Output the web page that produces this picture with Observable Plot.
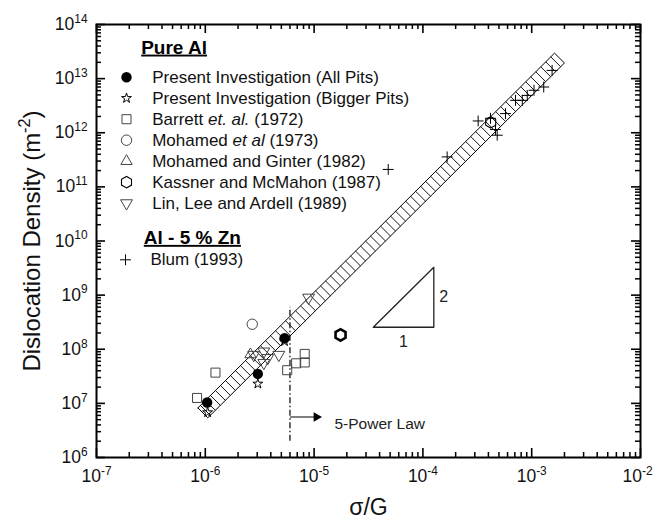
<!DOCTYPE html>
<html><head><meta charset="utf-8">
<script src="https://cdn.jsdelivr.net/npm/d3@7"></script>
<script src="https://cdn.jsdelivr.net/npm/@observablehq/plot@0.6"></script>
<style>
body{margin:0;background:#fff;}
#chart svg{font-family:"Liberation Sans",Arial,Helvetica,sans-serif;background:#fff;}
</style></head><body><div id="chart"></div>
<script>
// ---------------- data (σ/G, dislocation density m^-2) ----------------
const allPitsX    = [1.04e-6, 3.04e-6, 5.35e-6];
const allPitsY    = [1.04e7, 3.5e7, 1.6e8];
const biggerPitsX = [1.05e-6, 3.04e-6, 5.35e-6];
const biggerPitsY = [6.8e6, 2.3e7, 1.4e8];
const barrettX    = [8.4e-7, 1.24e-6, 5.66e-6, 6.84e-6, 8.2e-6, 8.2e-6];
const barrettY    = [1.26e7, 3.7e7, 4.1e7, 5.5e7, 5.7e7, 8.2e7];
const mohamedX    = [2.7e-6];
const mohamedY    = [2.9e8];
const ginterX     = [2.6e-6];
const ginterY     = [8.0e7];
const kassnerX    = [1.75e-5, 4.2e-4];
const kassnerY    = [1.84e8, 1.56e12];
const linX        = [2.79e-6, 3.45e-6, 3.75e-6, 4.74e-6, 3.45e-6, 8.9e-6];
const linY        = [7.9e7, 9.1e7, 6.9e7, 7.9e7, 5.6e7, 9.0e8];
const blumX       = [4.8e-5, 1.67e-4, 3.22e-4, 4.18e-4, 4.65e-4, 4.82e-4, 5.74e-4, 7.1e-4, 8.2e-4, 9.1e-4, 1.05e-3, 1.29e-3, 1.54e-3];
const blumY       = [2.1e11, 3.58e11, 1.65e12, 1.85e12, 1.15e12, 9.0e11, 2.26e12, 3.97e12, 3.97e12, 4.9e12, 6.1e12, 7.0e12, 1.42e13];

// fitted band  ρ = bandCoef · (σ/G)^2
const bandCoef  = 7.4e18;
const bandRange = [9.5e-7, 1.8e-3];
const bandHalf  = [0.0455, 0.0912];   // half width (decades in x, y) across the band

// 5-power-law boundary and slope triangle
const powerLawX   = [6e-6];
const powerLawY   = [2e6, 6e8];
const arrowX      = [6e-6, 1.12e-5];
const arrowY      = [5.6e6];
const powerLawPos = [1.54e-5, 4.2e6];
const slopeTriX   = [3.5e-5, 1.26e-4];
const slopeTriY   = [2.55e8, 3.27e9];

// tick labels (exponents)
const xTickExp = [-7, -6, -5, -4, -3, -2];
const yTickExp = [6, 7, 8, 9, 10, 11, 12, 13, 14];
const minorMult = [2, 3, 4, 5, 6, 7, 8, 9];

// texts
const xTitle = "σ/G";
const yTitle = "Dislocation Density (m^-2)";
const headPure = "Pure Al";
const headZn = "Al - 5 % Zn";
const pureLabels = ["Present Investigation (All Pits)", "Present Investigation (Bigger Pits)", "Barrett *et. al.* (1972)", "Mohamed *et al* (1973)", "Mohamed and Ginter (1982)", "Kassner and McMahon (1987)", "Lin, Lee and Ardell (1989)"];
const znLabels = ["Blum (1993)"];
const powerLawLabel = "5-Power Law";
const slopeLabels = ["1", "2"];

// ---------------- layout / styles ----------------
const W = 654, H = 522;
const M = {left: 96, right: 14, top: 24, bottom: 65};
const plotW = W - M.left - M.right, plotH = H - M.top - M.bottom;
const pts = (xs, ys) => xs.map((x, i) => ({x, y: ys[i]}));

const sty = {
  all:     {symbol: "circle", fill: "#000", stroke: "none", r: 5.2},
  bigger:  {symbol: "star", fill: "none", stroke: "#000", strokeWidth: 1, r: 3.1},
  barrett: {symbol: "square", fill: "none", stroke: "#444", strokeWidth: 1, r: 5.1},
  mohamed: {symbol: "circle", fill: "none", stroke: "#444", strokeWidth: 1, r: 5.2},
  ginter:  {symbol: "triangle", fill: "none", stroke: "#444", strokeWidth: 1, r: 4.2},
  kassner: {symbol: "hexagon", fill: "none", stroke: "#000", strokeWidth: 1.1, r: 5},
  lin:     {symbol: "triangle", fill: "none", stroke: "#444", strokeWidth: 1, r: 4.4, rotate: 180},
  blum:    {symbol: "plus", fill: "none", stroke: "#000", strokeWidth: 1, r: 3.6}
};
const pureKeys = ["all", "bigger", "barrett", "mohamed", "ginter", "kassner", "lin"];

// band geometry
const lk = Math.log10(bandCoef);
const [la, lb] = bandRange.map(Math.log10);
const ul = lx => ({x: 10 ** (lx - bandHalf[0]), y: 10 ** (lk + 2 * lx + bandHalf[1])});
const lr = lx => ({x: 10 ** (lx + bandHalf[0]), y: 10 ** (lk + 2 * lx - bandHalf[1])});
const outline = [ul(la), ul(lb), lr(lb), lr(la), ul(la)];
const hatchStep = 0.046;
const hatch = d3.range(la + hatchStep / 2, lb, hatchStep).map(lx => ({a: ul(lx), b: lr(lx)}));

const xMinor = xTickExp.slice(0, -1).flatMap(e => minorMult.map(m => m * 10 ** e));
const yMinor = yTickExp.slice(0, -1).flatMap(e => minorMult.map(m => m * 10 ** e));
const xMajor = xTickExp.map(e => 10 ** e);
const yMajor = yTickExp.map(e => 10 ** e);

const LF = 17, HF = 19;
const legend = [];
pureKeys.forEach((k, i) => {
  const dy = 52.7 + 21 * i;
  legend.push(Plot.dot([0], {frameAnchor: "top-left", dx: 30, dy, ...sty[k]}));
  legend.push(Plot.text([pureLabels[i]], {frameAnchor: "top-left", dx: 55.7, dy, text: d => d, textAnchor: "start", lineAnchor: "middle", fontSize: LF, fill: "#111"}));
});
legend.push(Plot.text([headPure], {frameAnchor: "top-left", dx: 44.7, dy: 23, text: d => d, textAnchor: "start", lineAnchor: "middle", fontSize: HF, fontWeight: "bold"}));
legend.push(Plot.text([headZn], {frameAnchor: "top-left", dx: 47.3, dy: 213.3, text: d => d, textAnchor: "start", lineAnchor: "middle", fontSize: HF, fontWeight: "bold"}));
legend.push(Plot.dot([0], {frameAnchor: "top-left", dx: 29, dy: 235.3, ...sty.blum}));
legend.push(Plot.text(znLabels, {frameAnchor: "top-left", dx: 54, dy: 235.3, text: d => d, textAnchor: "start", lineAnchor: "middle", fontSize: LF, fill: "#111"}));

const tri = [
  {x: slopeTriX[0], y: slopeTriY[0]}, {x: slopeTriX[1], y: slopeTriY[0]},
  {x: slopeTriX[1], y: slopeTriY[1]}, {x: slopeTriX[0], y: slopeTriY[0]}
];

const chart = Plot.plot({
  width: W, height: H,
  marginLeft: M.left, marginRight: M.right, marginTop: M.top, marginBottom: M.bottom,
  style: {fontFamily: "'Liberation Sans', Arial, sans-serif", background: "#fff"},
  x: {type: "log", domain: [1e-7, 1e-2], axis: null},
  y: {type: "log", domain: [1e6, 1e14], axis: null},
  marks: [
    // band
    Plot.link(hatch, {x1: d => d.a.x, y1: d => d.a.y, x2: d => d.b.x, y2: d => d.b.y, stroke: "#000", strokeWidth: 0.9}),
    Plot.line(outline, {x: "x", y: "y", stroke: "#000", strokeWidth: 1}),
    // 5-power law boundary
    Plot.ruleX(powerLawX, {x: d => d, y1: powerLawY[0], y2: powerLawY[1], stroke: "#000", strokeWidth: 1.2, strokeDasharray: "6,2.5,1.5,2.5"}),
    Plot.link([0], {x1: arrowX[0], x2: arrowX[1], y1: arrowY[0], y2: arrowY[0], stroke: "#000", strokeWidth: 1}),
    Plot.dot([0], {x: arrowX[1], y: arrowY[0], symbol: "triangle", rotate: 90, r: 3.6, fill: "#000", dx: -3}),
    Plot.text([powerLawLabel], {x: powerLawPos[0], y: powerLawPos[1], text: d => d, textAnchor: "start", fontSize: 15.5, fill: "#222"}),
    // slope triangle
    Plot.line(tri, {x: "x", y: "y", stroke: "#222", strokeWidth: 1.3}),
    Plot.text([slopeLabels[0]], {x: Math.sqrt(slopeTriX[0] * slopeTriX[1]), y: slopeTriY[0], dy: 15, text: d => d, fontSize: 16, fill: "#222"}),
    Plot.text([slopeLabels[1]], {x: slopeTriX[1], y: Math.sqrt(slopeTriY[0] * slopeTriY[1]), dx: 10, text: d => d, fontSize: 16, fill: "#222"}),
    // data
    Plot.dot(pts(barrettX, barrettY), {x: "x", y: "y", ...sty.barrett}),
    Plot.dot(pts(mohamedX, mohamedY), {x: "x", y: "y", ...sty.mohamed}),
    Plot.dot(pts(ginterX, ginterY), {x: "x", y: "y", ...sty.ginter}),
    Plot.dot(pts(linX, linY), {x: "x", y: "y", ...sty.lin}),
    Plot.dot(pts(kassnerX.slice(0, 1), kassnerY.slice(0, 1)), {x: "x", y: "y", ...sty.kassner, strokeWidth: 2.6}),
    Plot.dot(pts(kassnerX.slice(1), kassnerY.slice(1)), {x: "x", y: "y", ...sty.kassner}),
    Plot.dot(pts(blumX, blumY), {x: "x", y: "y", ...sty.blum}),
    Plot.dot(pts(biggerPitsX, biggerPitsY), {x: "x", y: "y", ...sty.bigger}),
    Plot.dot(pts(allPitsX, allPitsY), {x: "x", y: "y", ...sty.all}),
    // ticks (inward, mirrored)
    Plot.ruleX(xMajor, {x: d => d, insetTop: plotH - 9, stroke: "#000", strokeWidth: 1.6}),
    Plot.ruleX(xMajor, {x: d => d, insetBottom: plotH - 9, stroke: "#000", strokeWidth: 1.6}),
    Plot.ruleX(xMinor, {x: d => d, insetTop: plotH - 5, stroke: "#000", strokeWidth: 1.5}),
    Plot.ruleX(xMinor, {x: d => d, insetBottom: plotH - 5, stroke: "#000", strokeWidth: 1.5}),
    Plot.ruleY(yMajor, {y: d => d, insetRight: plotW - 9, stroke: "#000", strokeWidth: 1.6}),
    Plot.ruleY(yMajor, {y: d => d, insetLeft: plotW - 9, stroke: "#000", strokeWidth: 1.6}),
    Plot.ruleY(yMinor, {y: d => d, insetRight: plotW - 5, stroke: "#000", strokeWidth: 1.5}),
    Plot.ruleY(yMinor, {y: d => d, insetLeft: plotW - 5, stroke: "#000", strokeWidth: 1.5}),
    Plot.frame({stroke: "#000", strokeWidth: 2}),
    // tick labels
    Plot.text(xTickExp.slice(0, -1), {x: e => 10 ** e, text: e => `10^${e}`, frameAnchor: "bottom", lineAnchor: "middle", dy: 19, fontSize: 17.5, fill: "#111"}),
    Plot.text(xTickExp.slice(-1), {x: e => 10 ** e, text: e => `10^${e}`, frameAnchor: "bottom", lineAnchor: "middle", dy: 19, dx: -3, fontSize: 17.5, fill: "#111"}),
    Plot.text(yTickExp, {y: e => 10 ** e, text: e => `10^${e}`, frameAnchor: "left", lineAnchor: "middle", dx: -9, textAnchor: "end", fontSize: 17.5, fill: "#111"}),
    // axis titles
    Plot.text([xTitle], {frameAnchor: "bottom", lineAnchor: "middle", dy: 50, text: d => d, fontSize: 23, fill: "#111"}),
    Plot.text([yTitle], {frameAnchor: "left", textAnchor: "middle", lineAnchor: "middle", dx: -64, rotate: -90, text: d => d, fontSize: 24, fill: "#111"}),
    ...legend
  ]
});

document.getElementById("chart").appendChild(chart);

// rich text: superscripts (^n), italics (*...*), underlined headers
const NS = "http://www.w3.org/2000/svg";
chart.querySelectorAll("text").forEach(t => {
  const s = t.textContent;
  if (s === headPure || s === headZn) t.style.textDecoration = "underline";
  if (!/[\^*]/.test(s)) return;
  const fs = parseFloat(getComputedStyle(t).fontSize) || 14;
  const tokens = s.split(/(\^-?\d+|\*[^*]+\*)/).filter(x => x !== "");
  while (t.firstChild) t.removeChild(t.firstChild);
  let raised = false;
  for (const tok of tokens) {
    const ts = document.createElementNS(NS, "tspan");
    if (tok.startsWith("^")) {
      ts.textContent = tok.slice(1);
      ts.setAttribute("font-size", (fs * 0.68).toFixed(1));
      ts.setAttribute("dy", (-fs * 0.42).toFixed(1));
      raised = true;
    } else {
      if (tok.startsWith("*")) { ts.textContent = tok.slice(1, -1); ts.setAttribute("font-style", "italic"); }
      else ts.textContent = tok;
      if (raised) { ts.setAttribute("dy", (fs * 0.42).toFixed(1)); raised = false; }
    }
    t.appendChild(ts);
  }
});
</script>
</body></html>
